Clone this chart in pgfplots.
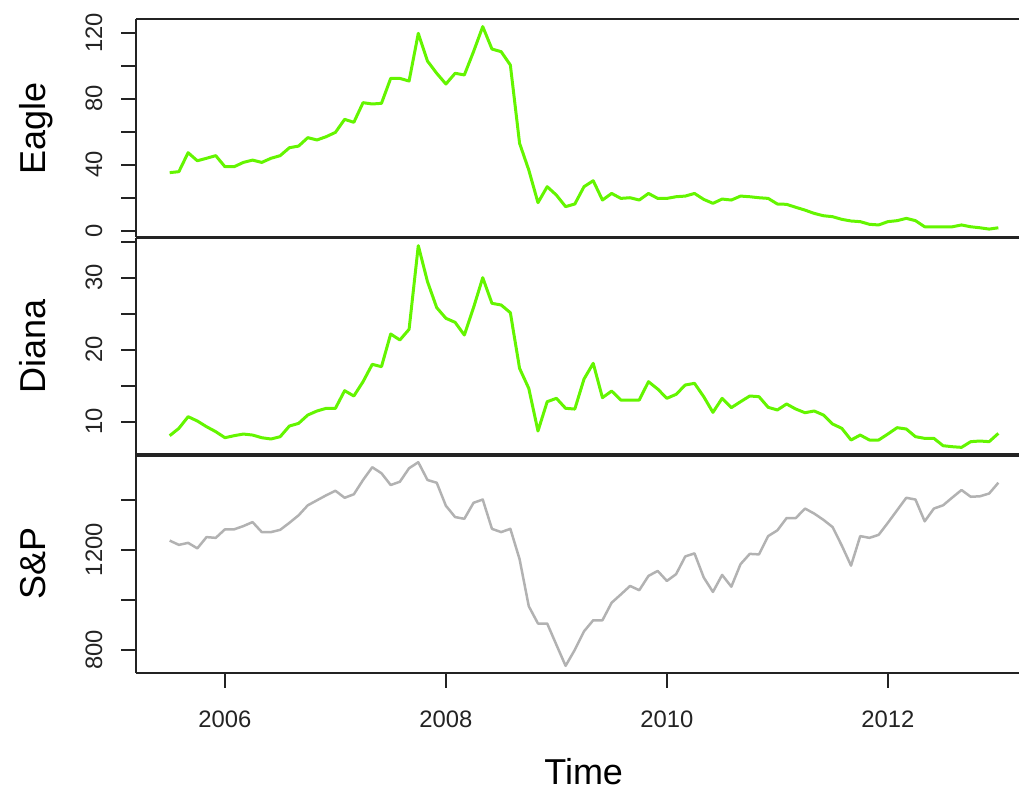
\documentclass[border=0pt]{standalone}
\usepackage{pgfplots}
\usepackage{pgfplotstable}
\pgfplotsset{compat=1.18}
\usepackage{fontspec}
\setmainfont{Liberation Sans}
\definecolor{lgreen}{RGB}{100,245,0}
\definecolor{sgray}{RGB}{178,178,178}
\definecolor{frame}{RGB}{35,35,35}

\pgfplotstableread{
t E D S
2005.5 35.2 8.06 1236
2005.5833 35.8 9.08 1219
2005.6667 47.3 10.70 1227
2005.75 42.4 10.10 1205
2005.8333 43.9 9.31 1250
2005.9167 45.5 8.62 1247
2006.0 38.8 7.78 1281
2006.0833 38.8 8.06 1281
2006.1667 41.4 8.29 1294
2006.25 42.8 8.15 1310
2006.3333 41.4 7.78 1270
2006.4167 43.9 7.60 1270
2006.5 45.5 7.92 1279
2006.5833 50.3 9.40 1307
2006.6667 51.3 9.77 1337
2006.75 56.4 10.93 1377
2006.8333 55.0 11.49 1397
2006.9167 57.0 11.86 1417
2007.0 59.6 11.86 1435
2007.0833 67.5 14.31 1407
2007.1667 65.7 13.57 1421
2007.25 77.6 15.56 1478
2007.3333 76.8 17.97 1529
2007.4167 77.2 17.64 1505
2007.5 92.3 22.18 1458
2007.5833 92.3 21.35 1471
2007.6667 90.7 22.83 1525
2007.75 119.6 34.45 1549
2007.8333 102.8 29.45 1478
2007.9167 95.4 25.84 1467
2008.0 88.9 24.36 1375
2008.0833 95.4 23.80 1330
2008.1667 94.4 22.04 1323
2008.25 108.5 25.84 1387
2008.3333 123.7 30.00 1400
2008.4167 110.1 26.44 1283
2008.5 108.5 26.21 1270
2008.5833 100.4 25.14 1283
2008.6667 53.0 17.41 1162
2008.75 36.8 14.63 974
2008.8333 17.0 8.71 905
2008.9167 26.7 12.78 905
2009.0 21.6 13.25 820
2009.0833 14.6 11.86 736
2009.1667 16.2 11.76 800
2009.25 26.7 15.93 874
2009.3333 30.3 18.11 918
2009.4167 18.6 13.34 918
2009.5 22.6 14.26 988
2009.5833 19.6 13.01 1021
2009.6667 20.0 13.01 1055
2009.75 18.6 13.01 1038
2009.8333 22.6 15.56 1095
2009.9167 19.6 14.54 1115
2010.0 19.6 13.25 1075
2010.0833 20.6 13.80 1102
2010.1667 21.0 15.10 1173
2010.25 22.6 15.33 1185
2010.3333 19.0 13.48 1089
2010.4167 16.6 11.30 1031
2010.5 19.2 13.25 1099
2010.5833 18.6 11.95 1052
2010.6667 21.0 12.78 1142
2010.75 20.6 13.57 1183
2010.8333 20.0 13.48 1181
2010.9167 19.6 12.00 1254
2011.0 16.2 11.63 1277
2011.0833 16.0 12.46 1326
2011.1667 14.2 11.76 1326
2011.25 12.5 11.25 1364
2011.3333 10.5 11.49 1344
2011.4167 9.1 10.93 1319
2011.5 8.5 9.68 1290
2011.5833 6.9 9.08 1216
2011.6667 5.9 7.46 1136
2011.75 5.5 8.15 1254
2011.8333 3.9 7.46 1247
2011.9167 3.5 7.46 1259
2012.0 5.5 8.29 1307
2012.0833 6.1 9.17 1357
2012.1667 7.5 8.99 1407
2012.25 6.1 7.92 1400
2012.3333 2.4 7.69 1313
2012.4167 2.4 7.69 1364
2012.5 2.4 6.67 1377
2012.5833 2.4 6.53 1408
2012.6667 3.5 6.44 1438
2012.75 2.4 7.23 1411
2012.8333 1.8 7.32 1413
2012.9167 1.0 7.23 1424
2013.0 1.8 8.38 1467
}\data

\pgfplotsset{
  panel/.style={
    scale only axis, width=441.5pt, height=109.25pt,
    xmin=2005.195, xmax=2013.187,
    axis x line=box, axis y line*=left,
    axis line style={frame, line width=1.2pt},
    tick align=outside, major tick length=7.5pt,
    every tick/.style={frame, line width=1pt},
    ytick pos=left, xtick pos=bottom,
    yticklabel shift=9.5pt, xticklabel shift=8pt,
    yticklabel style={rotate=90, anchor=base, font=\fontsize{11.9}{14}\selectfont, text=frame},
    xticklabel style={font=\fontsize{11.9}{14}\selectfont, text=frame},
    every axis y label/.style={at={(axis description cs:-0.103,0.5)}, rotate=90, anchor=base, font=\fontsize{18}{20}\selectfont},
    scaled ticks=false,
  },
}

\begin{document}
\begin{tikzpicture}
\useasboundingbox (0,0) rectangle (509.5pt,394.5pt);
\begin{axis}[panel, at={(68pt,275.75pt)}, anchor=south west,
  ymin=-4.1, ymax=128.3, ytick={0,20,40,60,80,100,120}, yticklabels={0,,40,,80,,120},
  xtick=\empty, ylabel={Eagle}]
\addplot[lgreen, line width=1.5pt, line join=round] table[x=t, y=E] {\data};
\end{axis}
\begin{axis}[panel, at={(68pt,166.5pt)}, anchor=south west,
  ymin=5.24, ymax=35.58, ytick={10,15,20,25,30,35}, yticklabels={10,,20,,30,},
  xtick=\empty, ylabel={Diana}]
\addplot[lgreen, line width=1.5pt, line join=round] table[x=t, y=D] {\data};
\end{axis}
\begin{axis}[panel, at={(68pt,58.15pt)}, anchor=south west,
  ymin=708.6, ymax=1581, ytick={800,1000,1200,1400}, yticklabels={800,,1200,},
  xtick={2006,2008,2010,2012}, xticklabels={2006,2008,2010,2012},
  ylabel={S\&P}, xlabel={Time},
  every axis x label/.style={at={(axis description cs:0.507,-0.51)}, anchor=base, font=\fontsize{18}{20}\selectfont}]
\addplot[sgray, line width=1.25pt, line join=round] table[x=t, y=S] {\data};
\end{axis}
\end{tikzpicture}
\end{document}
